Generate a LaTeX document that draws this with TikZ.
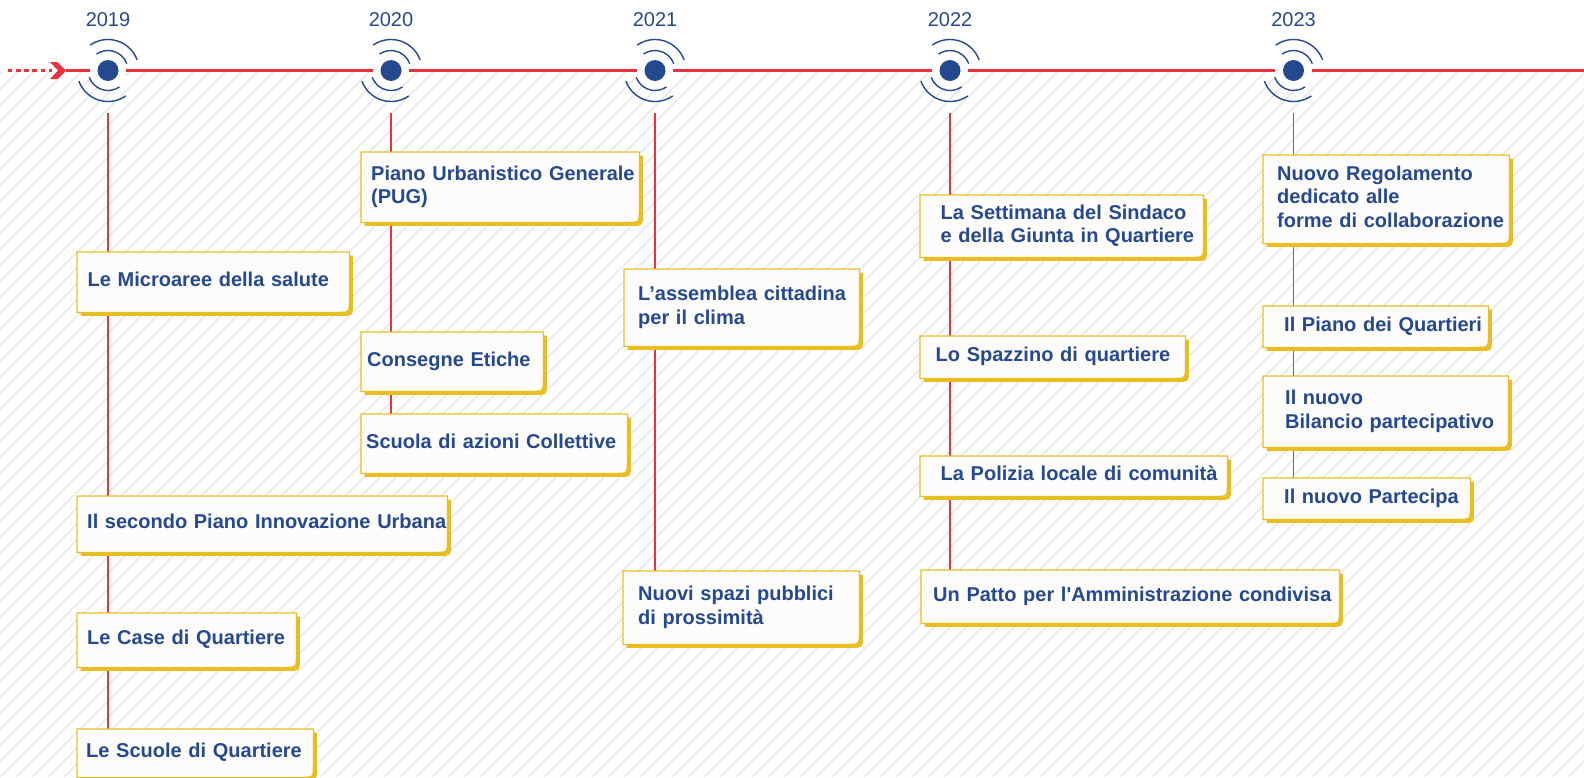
\documentclass[tikz,border=0pt]{standalone}
\usepackage{fontspec}
\setmainfont{Liberation Sans}
\usetikzlibrary{calc}

\definecolor{rosso}{HTML}{E8333F}
\definecolor{blu}{HTML}{25498F}
\definecolor{giallo}{HTML}{E9BE22}
\definecolor{carta}{HTML}{FDFCFA}
\definecolor{trama}{HTML}{DEDEDE}

\pgfdeclarelayer{sfondo}
\pgfsetlayers{sfondo,main}

\tikzset{evento/.style n args={3}{anchor=north west,inner sep=0pt,align=left,
    minimum width=#1pt,text width=#1pt,minimum height=#2pt,
    font=\bfseries\fontsize{20}{23.5}\selectfont,text=blu,
    execute at begin node={\leftskip=#3pt\strut},execute at end node={\strut}}}
\tikzset{anno/.style={text=blu,font=\fontsize{20}{20}\selectfont,inner sep=0pt,anchor=base}}
\tikzset{tappa/.style={circle,fill=white,minimum size=36pt,inner sep=0pt}}
\tikzset{onda/.style={blu,line width=1.4pt},linea/.style={rosso,line width=3pt},
    asta/.style={rosso,line width=1.2pt}}
\tikzset{cornice/.style={fill=carta,draw=giallo,line width=1.3pt}}

\begin{document}
\begin{tikzpicture}[x=1pt,y=-1pt]
	\useasboundingbox (0,0) rectangle (1584,777);

	% Le tappe
	\node[tappa] (m19) at (108,70.5) {};
	\node[tappa] (m20) at (391,70.5) {};
	\node[tappa] (m21) at (655,70.5) {};
	\node[tappa] (m22) at (950,70.5) {};
	\node[tappa] (m23) at (1293.5,70.5) {};

	\node[anno] (a19) at (108,26.5) {2019};
	\node[anno] (a20) at (391,26.5) {2020};
	\node[anno] (a21) at (655,26.5) {2021};
	\node[anno] (a22) at (950,26.5) {2022};
	\node[anno] (a23) at (1293.5,26.5) {2023};

	% 2019
	\node[evento={272}{60}{10.5}] (micro) at (77,252) {Le Microaree della salute};
	\node[evento={370}{56}{10}] (piu) at (77,496) {Il secondo Piano Innovazione Urbana};
	\node[evento={219}{54}{10}] (case) at (77,613) {Le Case di Quartiere};
	\node[evento={236}{48}{9}] (scuole) at (77,729) {Le Scuole di Quartiere};

	% 2020
	\node[evento={278}{70}{10}] (pug) at (361,152) {Piano Urbanistico Generale\\(PUG)};
	\node[evento={182}{59}{6}] (consegne) at (361,332) {Consegne Etiche};
	\node[evento={266}{59}{5}] (azioni) at (361,414) {Scuola di azioni Collettive};

	% 2021
	\node[evento={235}{77}{14}] (assemblea) at (624,269) {L’assemblea cittadina\\per il clima};
	\node[evento={236}{73}{15}] (spazi) at (623,571) {Nuovi spazi pubblici\\di prossimità};

	% 2022
	\node[evento={283}{62}{20.5}] (settimana) at (920,195) {La Settimana del Sindaco\\e della Giunta in Quartiere};
	\node[evento={265}{42}{15.5}] (spazzino) at (920,336) {Lo Spazzino di quartiere};
	\node[evento={307}{40}{20.5}] (polizia) at (920,456) {La Polizia locale di comunità};
	\node[evento={418}{53}{12}] (patto) at (921,570) {Un Patto per l\textquotesingle Amministrazione condivisa};

	% 2023
	\node[evento={246}{88}{14}] (regolamento) at (1263,155) {Nuovo Regolamento\\dedicato alle\\forme di collaborazione};
	\node[evento={225}{41}{21}] (quartieri) at (1263,306) {Il Piano dei Quartieri};
	\node[evento={245}{71}{22}] (bilancio) at (1263,376) {Il nuovo\\Bilancio partecipativo};
	\node[evento={207}{41}{21}] (partecipa) at (1263,478) {Il nuovo Partecipa};

	\begin{pgfonlayer}{sfondo}
		% Trama diagonale
		\begin{scope}
			\clip (0,72) rectangle (1584,777);
			\foreach \i in {-720,-704,...,1584}
				\draw[trama,line width=1pt] (\i,777) -- ++(705,-705);
		\end{scope}

		% Aste verticali
		\draw[asta,shorten <=24.5pt] (m19) -- (m19 |- scuole.north);
		\draw[asta,shorten <=24.5pt] (m20) -- (m20 |- azioni.north);
		\draw[asta,shorten <=24.5pt] (m21) -- (m21 |- spazi.north);
		\draw[asta,shorten <=24.5pt] (m22) -- (m22 |- patto.north);
		\draw[asta,shorten <=24.5pt] (m23) -- (m23 |- partecipa.north);

		% Riquadri
		\foreach \ev in {micro,piu,case,scuole,pug,consegne,azioni,assemblea,spazi,
				settimana,spazzino,polizia,patto,regolamento,quartieri,bilancio,partecipa}{
			\fill[giallo] ($(\ev.north west)+(3.5,3.5)$) -- ($(\ev.north east)+(3.5,3.5)$)
				-- ($(\ev.south east)+(3.5,-8)$) .. controls ($(\ev.south east)+(3.5,3.5)$) .. ($(\ev.south east)+(-8,3.5)$)
				-- ($(\ev.south west)+(3.5,3.5)$) -- cycle;
			\draw[cornice] (\ev.north west) -- (\ev.north east) -- ($(\ev.south east)+(0,-11)$)
				.. controls (\ev.south east) .. ($(\ev.south east)+(-11,0)$) -- (\ev.south west) -- cycle;
		}
	\end{pgfonlayer}

	% La linea del tempo
	\coordinate (inizio) at (7.5,70.5);
	\coordinate (coda) at (52,70.5);
	\coordinate (punta) at (66,70.5);
	\coordinate (fine) at (1584,70.5);
	\draw[linea,dash pattern=on 4.7pt off 3.6pt] (inizio) -- (coda);
	\fill[rosso] (punta) -- ++(-8.5,-8.5) -- ++(-7.5,0) -- ++(8,8.5) -- ++(-8,8.5) -- ++(7.5,0) -- cycle;
	\draw[linea] (punta) -- (m19) -- (m20) -- (m21) -- (m22) -- (m23) -- (fine);

	% Punti e onde
	\foreach \m in {m19,m20,m21,m22,m23}{
		\fill[blu] (\m) circle[radius=10.5];
		\foreach \r in {20,31}{
			\draw[onda] ($(\m)+(20:\r pt)$) arc[start angle=20,end angle=125,radius=\r pt];
			\draw[onda] ($(\m)+(200:\r pt)$) arc[start angle=200,end angle=305,radius=\r pt];
		}
	}

\end{tikzpicture}
\end{document}
